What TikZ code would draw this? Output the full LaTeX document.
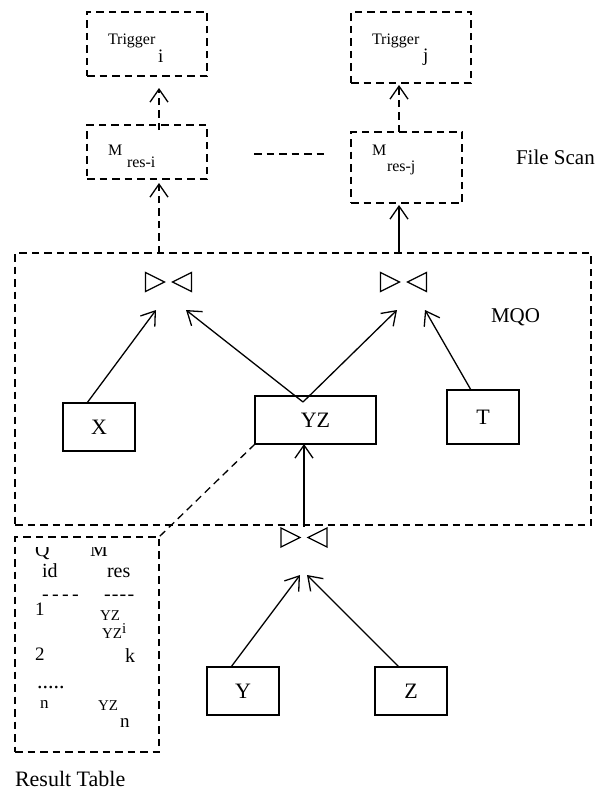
\documentclass[tikz,border=0pt]{standalone}
\usepackage{fontspec}
\setmainfont{Liberation Serif}
\usetikzlibrary{arrows.meta}
\newcommand\setfs[1]{\fontsize{#1}{#1}\selectfont}
\begin{document}
\begin{tikzpicture}[x=1pt,y=-1pt,
  every node/.style={inner sep=0pt, outer sep=0pt},
  dbox/.style={draw, line width=1.3pt, dash pattern=on 7.5pt off 5pt},
  sbox/.style={draw, line width=1.5pt, font=\setfs{22}},
  txt/.style={anchor=base west},
  conn/.style={line width=1.3pt, -{Straight Barb[length=13pt,width=18pt,line width=1.3pt]}},
  dconn/.style={conn, dash pattern=on 7.5pt off 5pt},
  dline/.style={line width=1.3pt, dash pattern=on 7.5pt off 5pt},
  joinop/.style={minimum width=50pt, minimum height=22pt,
    path picture={
      \draw[line width=1.3pt, line join=miter, shift={(path picture bounding box.center)}]
        (-23,-9.5) -- (-23,9.5) -- (-4,0) -- cycle
        (23,-9.5) -- (23,9.5) -- (4,0) -- cycle;}},
]
\useasboundingbox (0,0) rectangle (595,792);

% trigger boxes
\node[dbox, minimum width=120pt, minimum height=64pt] (trigi) at (147,44) {};
\node[txt, font=\setfs{16}] (triginame) at (108,45) {Trigger};
\node[txt, font=\setfs{19}] (trigisub) at (158,63) {i};
\node[dbox, minimum width=120pt, minimum height=71pt] (trigj) at (411,47.5) {};
\node[txt, font=\setfs{16}] (trigjname) at (372,45) {Trigger};
\node[txt, font=\setfs{19}] (trigjsub) at (423,62) {j};

% result buffers
\node[dbox, minimum width=120pt, minimum height=54pt] (mi) at (147,152) {};
\node[txt, font=\setfs{16}] (miname) at (108,155) {M};
\node[txt, font=\setfs{16}] (misub) at (127,167) {res-i};
\node[dbox, minimum width=111pt, minimum height=71pt] (mj) at (406.5,167.5) {};
\node[txt, font=\setfs{16}] (mjname) at (372,155) {M};
\node[txt, font=\setfs{16}] (mjsub) at (387,171) {res-j};
\node[txt, font=\setfs{21}] (filescan) at (516,164) {File Scan};

% multi-query optimiser
\node[dbox, minimum width=576pt, minimum height=272pt] (mqo) at (303,389) {};
\node[txt, font=\setfs{21}] (mqolabel) at (491,322) {MQO};
\node[joinop] (j1) at (168.5,282) {};
\node[joinop] (j2) at (403.5,282) {};
\node[sbox, minimum width=72pt, minimum height=48pt] (x) at (99,427) {X};
\node[sbox, minimum width=121pt, minimum height=48pt] (yz) at (315.5,420) {YZ};
\node[sbox, minimum width=72pt, minimum height=54pt] (t) at (483,417) {T};

% lower join
\node[joinop] (j3) at (304,537.5) {};
\node[sbox, minimum width=72pt, minimum height=48pt] (y) at (243,691) {Y};
\node[sbox, minimum width=72pt, minimum height=48pt] (z) at (411,691) {Z};

% result table
\node[dbox, minimum width=144pt, minimum height=215pt] (tbl) at (87,644.5) {};
\begin{scope}
  \clip (15,547) rectangle (159,752);
  \node[txt, font=\setfs{20}] (qh) at (35,556) {Q};
  \node[txt, font=\setfs{20}] (mh) at (90,556) {M};
\end{scope}
\node[txt, font=\setfs{20}] (qsub) at (42,577) {id};
\node[txt, font=\setfs{20}] (msub) at (107,577) {res};
\node[txt, font=\setfs{20}\addfontfeature{LetterSpace=17}] (qrule) at (42,600) {{-}{-}{-}{-}};
\node[txt, font=\setfs{20}\addfontfeature{LetterSpace=6}] (mrule) at (104,600) {{-}{-}{-}{-}};
\node[txt, font=\setfs{19}] (r1) at (35,615) {1};
\node[txt, font=\setfs{15}] (r1m) at (100,620) {YZ};
\node[txt, font=\setfs{15}] (r1s) at (122,633) {i};
\node[txt, font=\setfs{19}] (r2) at (35,660) {2};
\node[txt, font=\setfs{15}] (r2m) at (102,638) {YZ};
\node[txt, font=\setfs{20}] (r2s) at (125,662) {k};
\node[txt, font=\setfs{22}] (rdots) at (37,688) {.....};
\node[txt, font=\setfs{17}] (rn) at (40,708) {n};
\node[txt, font=\setfs{15}] (rnm) at (98,710) {YZ};
\node[txt, font=\setfs{19}] (rns) at (120,727) {n};
\node[txt, font=\setfs{22}] (tblname) at (15,786) {Result Table};

% connector end points
\coordinate (pi) at (159,0);
\coordinate (pj) at (399,0);
\coordinate (yzv) at (303,402);
\coordinate (j1a) at (156,310);
\coordinate (j1b) at (186,310);
\coordinate (j2a) at (397,310);
\coordinate (j2b) at (425,310);
\coordinate (xtop) at (87,403);
\coordinate (ttop) at (471,390);
\coordinate (ytop) at (231,667);
\coordinate (ztop) at (399,667);
\coordinate (j3a) at (300,575);
\coordinate (j3b) at (307,575);

% connectors
\draw[dconn, shorten >=12pt] ([yshift=-5pt]pi |- mi.north) -- (pi |- trigi.south);
\draw[dconn, shorten >=2pt] (pj |- mj.north) -- (pj |- trigj.south);
\draw[dconn, shorten >=4pt] (pi |- mqo.north) -- (pi |- mi.south);
\draw[conn, shorten >=2pt] (pj |- mqo.north) -- (pj |- mj.south);
\draw[dline, shorten <=47pt, shorten >=23pt] ([yshift=-2pt]mi.east) -- ([yshift=-2pt]mi.east -| mj.west);
\draw[conn] (xtop) -- (j1a);
\draw[conn] (yzv) -- (j1b);
\draw[conn] (yzv) -- (j2a);
\draw[conn] (ttop) -- (j2b);
\draw[conn] (j3.north) -- (j3 |- yz.south);
\draw[conn] (ytop) -- (j3a);
\draw[conn] (ztop) -- (j3b);
\draw[dline] (yz.south west) -- (tbl.north east);
\end{tikzpicture}
\end{document}
